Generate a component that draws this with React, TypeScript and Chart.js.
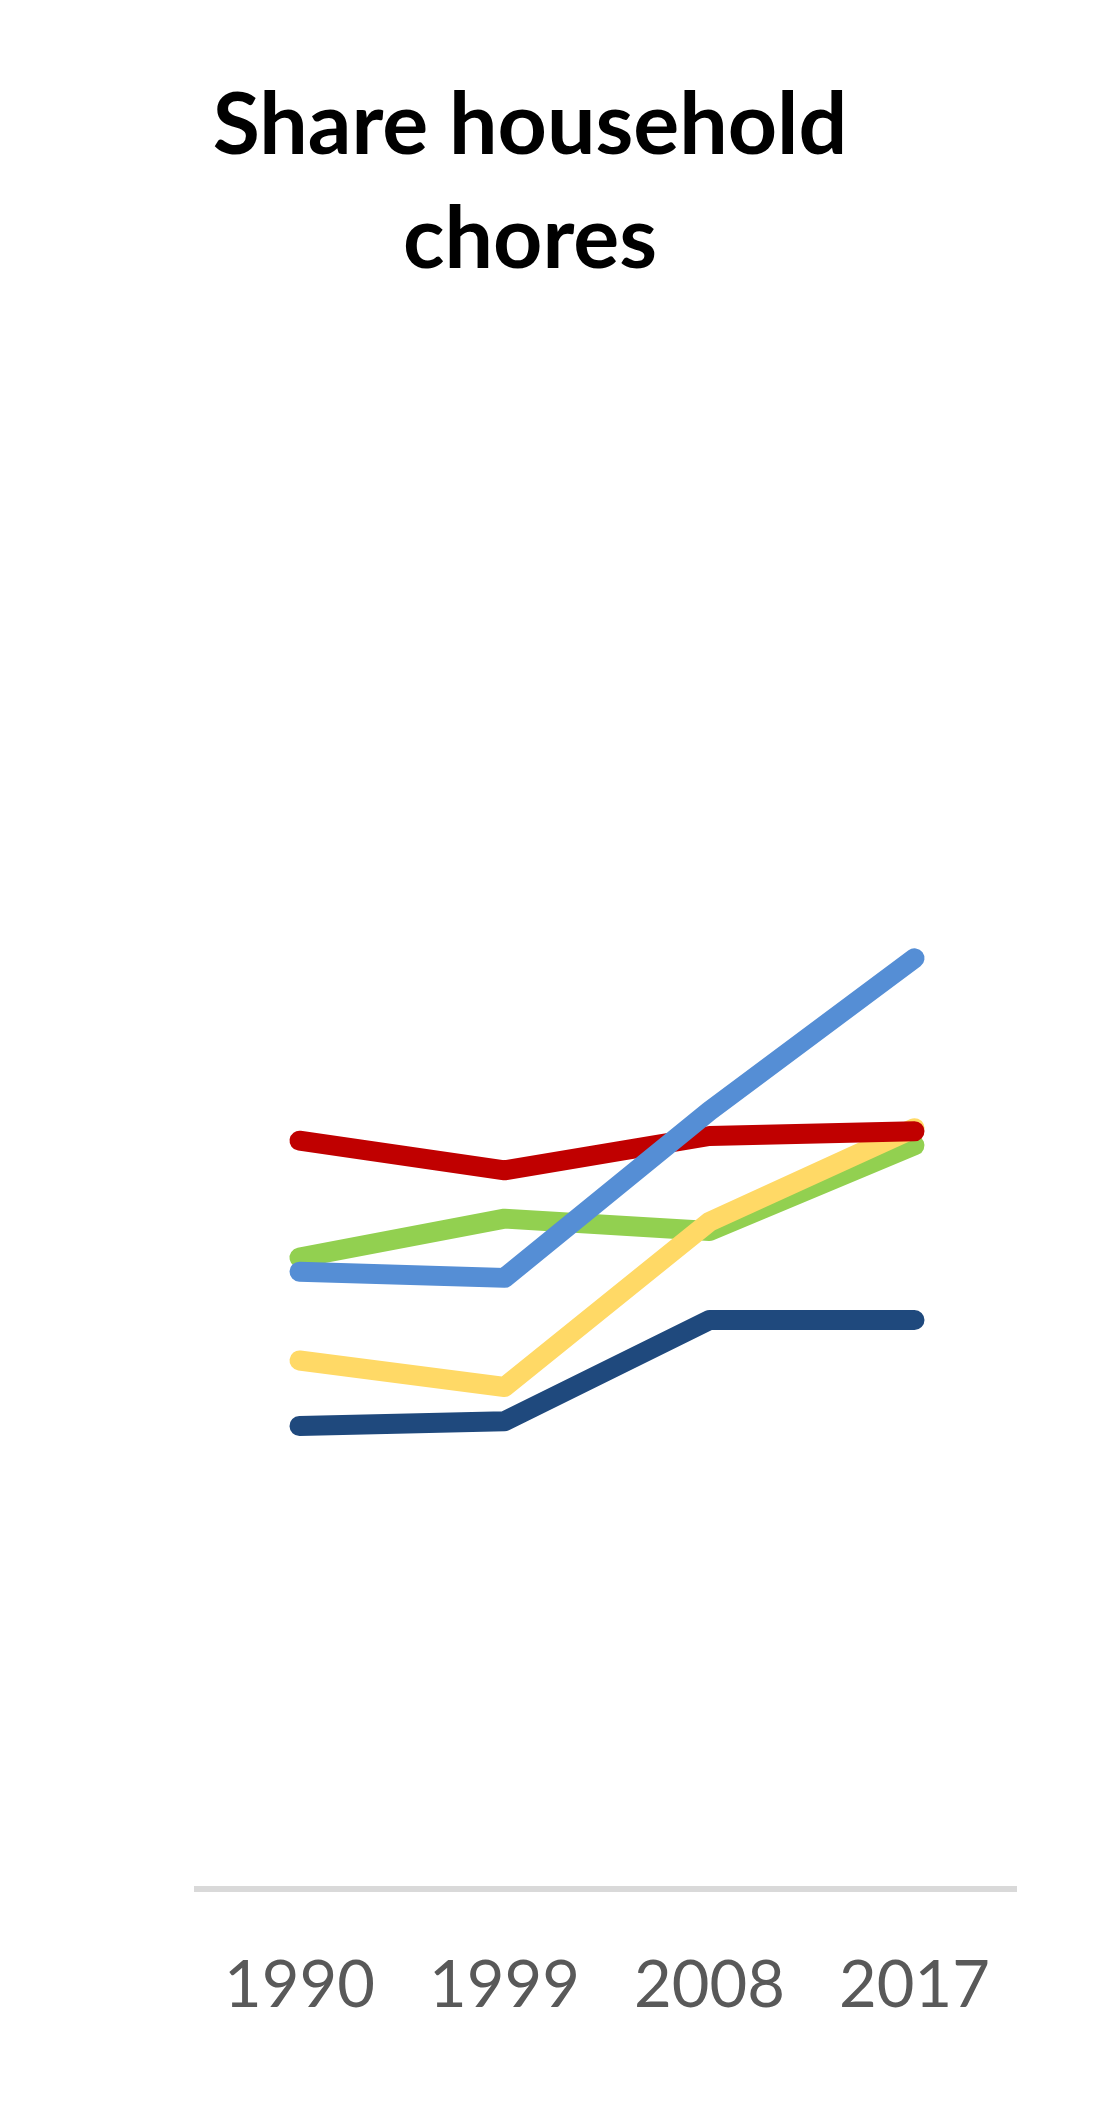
import { useEffect, useRef } from "react"
import { Chart, registerables } from "chart.js"

Chart.register(...registerables)

// years on the x axis
const years = ["1990", "1999", "2008", "2017"]

// series values (share, %)
const navyValues = [29.7, 30.0, 36.5, 36.5]
const greenValues = [40.5, 43.0, 42.2, 47.7]
const yellowValues = [33.9, 32.2, 42.8, 48.8]
const redValues = [48.0, 46.1, 48.3, 48.6]
const blueValues = [39.6, 39.2, 49.9, 59.7]

const titleLines = ["Share household", "chores"]

export default function App() {
  const canvasRef = useRef<HTMLCanvasElement>(null)
  const chartRef = useRef<Chart | null>(null)

  useEffect(() => {
    if (!canvasRef.current) return
    const ctx = canvasRef.current.getContext("2d")
    if (!ctx) return
    if (chartRef.current) chartRef.current.destroy()

    const line = (data: number[], color: string, order: number) => ({
      data,
      borderColor: color,
      backgroundColor: color,
      borderWidth: 20,
      borderCapStyle: "round" as const,
      borderJoinStyle: "round" as const,
      pointRadius: 0,
      pointHoverRadius: 0,
      fill: false,
      tension: 0,
      order,
    })

    chartRef.current = new Chart(ctx, {
      type: "line",
      data: {
        labels: years,
        datasets: [
          line(navyValues, "#1F497D", 5),
          line(greenValues, "#92D050", 4),
          line(yellowValues, "#FFD966", 3),
          line(redValues, "#C00000", 2),
          line(blueValues, "#558ED5", 1),
        ],
      },
      options: {
        responsive: true,
        maintainAspectRatio: false,
        animation: false,
        layout: { padding: { left: 35, right: 0, top: 0, bottom: 0 } },
        plugins: {
          legend: { display: false },
          tooltip: { enabled: false },
          title: {
            display: true,
            text: titleLines,
            color: "#000000",
            font: { family: "Lato", size: 86, weight: "bold", lineHeight: 114 / 86 },
            padding: { top: 61, bottom: 33 },
          },
        },
        scales: {
          x: {
            offset: true,
            // tick marks are hidden; their length only spaces the labels
            grid: { display: false, drawTicks: true, tickLength: 58 },
            border: { display: true, color: "#D9D9D9", width: 6 },
            ticks: {
              color: "#595959",
              padding: 0,
              font: { family: "Lato", size: 65, lineHeight: 1.2 },
              maxRotation: 0,
            },
          },
          y: {
            min: 0,
            max: 100,
            grid: { display: false, drawTicks: false },
            border: { display: false },
            ticks: { display: false },
            afterFit: (scale) => {
              scale.width = 154
            },
          },
        },
      },
    })

    return () => {
      if (chartRef.current) {
        chartRef.current.destroy()
        chartRef.current = null
      }
    }
  }, [])

  return (
    <div style={{ position: "relative", width: 1009, height: 2017 }}>
      <canvas ref={canvasRef} />
    </div>
  )
}
